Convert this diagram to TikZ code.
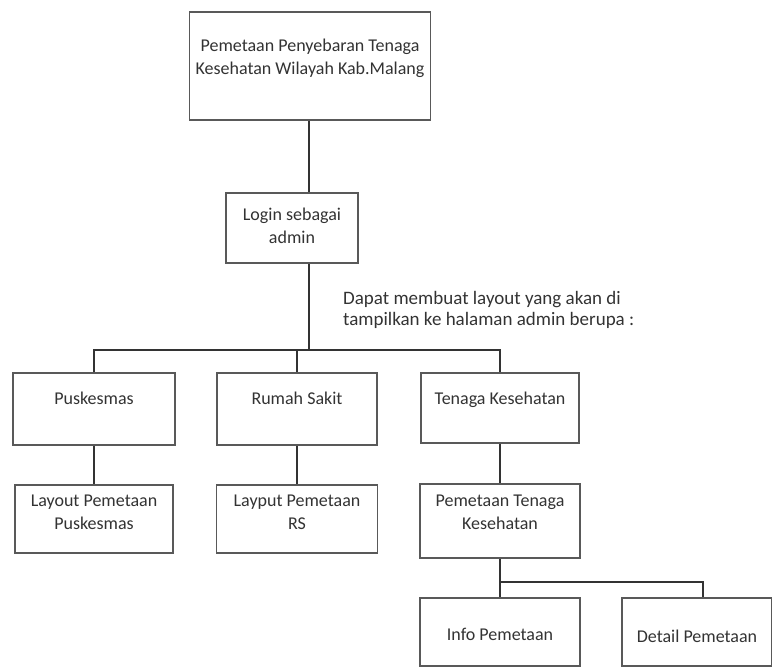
\documentclass[tikz,border=0pt]{standalone}
\usepackage{fontspec}
\setmainfont{Carlito}
\begin{document}
\begin{tikzpicture}[x=1pt,y=-1pt,
  box/.style={draw=black!65, line width=1.5pt, fill=white},
  lbl/.style={align=center, inner sep=0pt, font=\fontsize{18}{23}\selectfont, text=black!80},
  link/.style={draw=black!80, line width=2.6pt}]
\useasboundingbox (0,0) rectangle (772,670);
% boxes
\node[box, minimum width=241pt, minimum height=108pt] (title) at (310,66) {};
\node[box, minimum width=132pt, minimum height=70pt] (login) at (292,228) {};
\node[box, minimum width=162pt, minimum height=72pt] (pusk) at (94,409) {};
\node[box, minimum width=160pt, minimum height=72pt] (rs) at (297,409) {};
\node[box, minimum width=158pt, minimum height=70pt] (tenaga) at (500,408) {};
\node[box, minimum width=158pt, minimum height=68pt] (lpusk) at (94,519) {};
\node[box, minimum width=161pt, minimum height=68pt] (lrs) at (297,519) {};
\node[box, minimum width=160pt, minimum height=74pt] (ptk) at (500,521) {};
\node[box, minimum width=160pt, minimum height=68pt] (info) at (500,632) {};
\node[box, minimum width=150pt, minimum height=68pt] (detail) at (697,632) {};
% box texts
\node[lbl, yshift=8pt] (titleT) at (title) {Pemetaan Penyebaran Tenaga\\Kesehatan Wilayah Kab.Malang};
\node[lbl, yshift=2pt] (loginT) at (login) {Login sebagai\\admin};
\node[lbl, yshift=11pt] (puskT) at (pusk) {Puskesmas};
\node[lbl, yshift=11pt] (rsT) at (rs) {Rumah Sakit};
\node[lbl, yshift=8pt] (tenagaT) at (tenaga) {Tenaga Kesehatan};
\node[lbl, yshift=7pt] (lpuskT) at (lpusk) {Layout Pemetaan\\Puskesmas};
\node[lbl, yshift=7pt] (lrsT) at (lrs) {Layput Pemetaan\\RS};
\node[lbl, yshift=9pt] (ptkT) at (ptk) {Pemetaan Tenaga\\Kesehatan};
\node[lbl, yshift=-2pt] (infoT) at (info) {Info Pemetaan};
\node[lbl, yshift=-4pt] (detailT) at (detail) {Detail Pemetaan};
% note
\node[lbl, align=left, anchor=west, font=\fontsize{19}{21}\selectfont] (note) at (343,310)
  {Dapat membuat layout yang akan di\\tampilkan ke halaman admin berupa :};
% connectors
\coordinate (bar) at (309,350);
\coordinate (bar2) at (500,582);
\draw[link] (title.south -| bar) -- (login.north -| bar);
\draw[link] (login.south -| bar) -- (bar);
\draw[link] (pusk.north) -- (pusk.north |- bar) -- (tenaga.north |- bar) -- (tenaga.north);
\draw[link] (rs.north |- bar) -- (rs.north);
\draw[link] (pusk.south) -- (lpusk.north);
\draw[link] (rs.south) -- (lrs.north);
\draw[link] (tenaga.south) -- (ptk.north);
\draw[link] (ptk.south) -- (info.north);
\draw[link] (bar2) -- (bar2 -| 703,0) -- (detail.north -| 703,0);
\end{tikzpicture}
\end{document}
